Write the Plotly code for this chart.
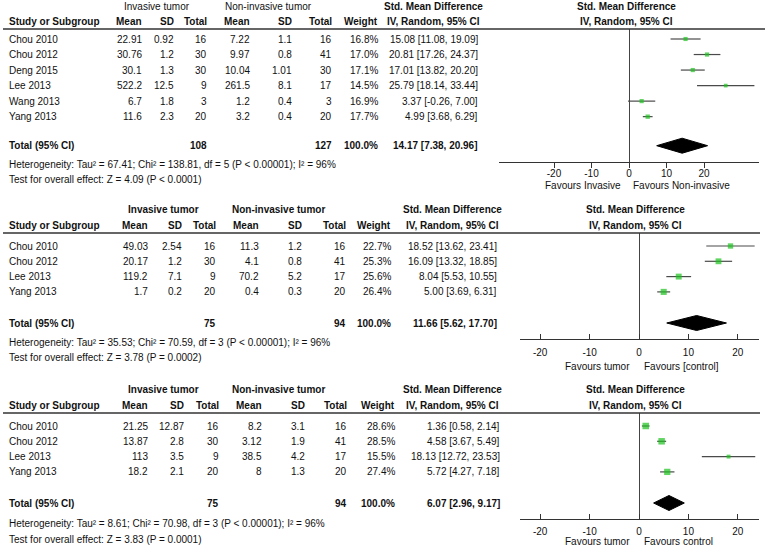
import plotly.graph_objects as go

W, H = 768, 548
FONT = "Liberation Sans, Arial, sans-serif"
GREEN = "#1cc21c"

# ---------------- Data ----------------
# Panel 1
p1_study = ["Chou 2010", "Chou 2012", "Deng 2015", "Lee 2013", "Wang 2013", "Yang 2013"]
p1_inv_mean = ["22.91", "30.76", "30.1", "522.2", "6.7", "11.6"]
p1_inv_sd = ["0.92", "1.2", "1.3", "12.5", "1.8", "2.3"]
p1_inv_n = [16, 30, 30, 9, 3, 20]
p1_non_mean = ["7.22", "9.97", "10.04", "261.5", "1.2", "3.2"]
p1_non_sd = ["1.1", "0.8", "1.01", "8.1", "0.4", "0.4"]
p1_non_n = [16, 41, 30, 17, 3, 20]
p1_weight = [16.8, 17.0, 17.1, 14.5, 16.9, 17.7]
p1_smd = [15.08, 20.81, 17.01, 25.79, 3.37, 4.99]
p1_lo = [11.08, 17.26, 13.82, 18.14, -0.26, 3.68]
p1_hi = [19.09, 24.37, 20.20, 33.44, 7.00, 6.29]
p1_total = [14.17, 7.38, 20.96]
p1_het = "Heterogeneity: Tau² = 67.41; Chi² = 138.81, df = 5 (P < 0.00001); I² = 96%"
p1_test = "Test for overall effect: Z = 4.09 (P < 0.0001)"
p1_fav = ["Favours Invasive", "Favours Non-invasive"]

# Panel 2
p2_study = ["Chou 2010", "Chou 2012", "Lee 2013", "Yang 2013"]
p2_inv_mean = ["49.03", "20.17", "119.2", "1.7"]
p2_inv_sd = ["2.54", "1.2", "7.1", "0.2"]
p2_inv_n = [16, 30, 9, 20]
p2_non_mean = ["11.3", "4.1", "70.2", "0.4"]
p2_non_sd = ["1.2", "0.8", "5.2", "0.3"]
p2_non_n = [16, 41, 17, 20]
p2_weight = [22.7, 25.3, 25.6, 26.4]
p2_smd = [18.52, 16.09, 8.04, 5.00]
p2_lo = [13.62, 13.32, 5.53, 3.69]
p2_hi = [23.41, 18.85, 10.55, 6.31]
p2_total = [11.66, 5.62, 17.70]
p2_het = "Heterogeneity: Tau² = 35.53; Chi² = 70.59, df = 3 (P < 0.00001); I² = 96%"
p2_test = "Test for overall effect: Z = 3.78 (P = 0.0002)"
p2_fav = ["Favours tumor", "Favours [control]"]

# Panel 3
p3_study = ["Chou 2010", "Chou 2012", "Lee 2013", "Yang 2013"]
p3_inv_mean = ["21.25", "13.87", "113", "18.2"]
p3_inv_sd = ["12.87", "2.8", "3.5", "2.1"]
p3_inv_n = [16, 30, 9, 20]
p3_non_mean = ["8.2", "3.12", "38.5", "8"]
p3_non_sd = ["3.1", "1.9", "4.2", "1.3"]
p3_non_n = [16, 41, 17, 20]
p3_weight = [28.6, 28.5, 15.5, 27.4]
p3_smd = [1.36, 4.58, 18.13, 5.72]
p3_lo = [0.58, 3.67, 12.72, 4.27]
p3_hi = [2.14, 5.49, 23.53, 7.18]
p3_total = [6.07, 2.96, 9.17]
p3_het = "Heterogeneity: Tau² = 8.61; Chi² = 70.98, df = 3 (P < 0.00001); I² = 96%"
p3_test = "Test for overall effect: Z = 3.83 (P = 0.0001)"
p3_fav = ["Favours tumor", "Favours control"]

tick_vals = [-20, -10, 0, 10, 20]
tick_text = ["-20", "-10", "0", "10", "20"]

# ---------------- Layout geometry (pixels) ----------------
panels = [
    dict(study=p1_study, im=p1_inv_mean, isd=p1_inv_sd, inn=p1_inv_n,
         nm=p1_non_mean, nsd=p1_non_sd, nn=p1_non_n, w=p1_weight,
         smd=p1_smd, lo=p1_lo, hi=p1_hi, tot=p1_total, het=p1_het, test=p1_test, fav=p1_fav,
         g=dict(hdr1=6, hdr2=21, line=29, row0=39, sp=15.53, total=145.7, het=164.5, test=179,
                axis=162, ax0=499, ax1=759, zero=629, unit=3.75, ticks="outside", standoff=-3,
                fav=185, fav_l=622, fav_r=632, line_x1=765,
                cols=[143, 175, 208, 251, 293, 333, 379], smd_r=479,
                inv_c=157, non_c=268, smd_c=433, forest_c=626, grp_bold=False)),
    dict(study=p2_study, im=p2_inv_mean, isd=p2_inv_sd, inn=p2_inv_n,
         nm=p2_non_mean, nsd=p2_non_sd, nn=p2_non_n, w=p2_weight,
         smd=p2_smd, lo=p2_lo, hi=p2_hi, tot=p2_total, het=p2_het, test=p2_test, fav=p2_fav,
         g=dict(hdr1=209, hdr2=225, line=233, row0=246, sp=15.3, total=323, het=342, test=357,
                axis=339, ax0=520, ax1=759, zero=639, unit=4.94, ticks="inside", standoff=4,
                fav=366, fav_l=631, fav_r=643, line_x1=760,
                cols=[149, 183, 217, 260, 303, 347, 392], smd_r=498,
                inv_c=163, non_c=278, smd_c=452, forest_c=635, grp_bold=True)),
    dict(study=p3_study, im=p3_inv_mean, isd=p3_inv_sd, inn=p3_inv_n,
         nm=p3_non_mean, nsd=p3_non_sd, nn=p3_non_n, w=p3_weight,
         smd=p3_smd, lo=p3_lo, hi=p3_hi, tot=p3_total, het=p3_het, test=p3_test, fav=p3_fav,
         g=dict(hdr1=389, hdr2=405, line=413, row0=426, sp=15.3, total=503, het=523, test=539,
                axis=519, ax0=520, ax1=759, zero=639, unit=4.94, ticks="inside", standoff=3,
                fav=541.5, fav_l=631, fav_r=643, line_x1=760,
                cols=[149, 185, 220, 263, 306, 348, 396], smd_r=501,
                inv_c=163, non_c=278, smd_c=452, forest_c=635, grp_bold=True)),
]


def px(x):
    return x / W


def py(y):
    return 1 - y / H


fig = go.Figure()
annotations = []
shapes = []
layout_axes = {}


def add_text(text, x, y, anchor="left", yref="paper", bold=False, size=10):
    if bold:
        text = "<b>" + text + "</b>"
    annotations.append(dict(text=text, x=x, y=y, xref="paper", yref=yref,
                            xanchor=anchor, yanchor="middle", showarrow=False,
                            font=dict(family=FONT, size=size, color="#111"),
                            borderpad=0))


for k, P in enumerate(panels):
    g = P["g"]
    n = len(P["study"])
    sfx = "" if k == 0 else str(k + 1)
    xa, ya = "x" + sfx, "y" + sfx
    # row -> pixel mapping via y axis range
    y_bot = (g["axis"] - g["row0"]) / g["sp"]
    y_top = (g["line"] - g["row0"]) / g["sp"]
    r_total = (g["total"] - g["row0"]) / g["sp"]
    rows = list(range(n))
    x_rng = [(g["ax0"] - g["zero"]) / g["unit"], (g["ax1"] - g["zero"]) / g["unit"]]

    layout_axes["xaxis" + sfx] = dict(
        domain=[px(g["ax0"]), px(g["ax1"])], range=x_rng, anchor=ya,
        showline=True, linecolor="#333", linewidth=1.3, showgrid=False,
        zeroline=True, zerolinecolor="#444", zerolinewidth=1.3,
        ticks=g["ticks"], ticklen=5, tickcolor="#333", tickwidth=1,
        tickvals=tick_vals, ticktext=tick_text, ticklabelstandoff=g["standoff"],
        tickfont=dict(family=FONT, size=10, color="#111"), fixedrange=True)
    layout_axes["yaxis" + sfx] = dict(
        domain=[py(g["axis"]), py(g["line"])], range=[y_bot, y_top], anchor=xa,
        visible=False, fixedrange=True)

    # study markers with CI
    sizes = [0.2 * w + 0.8 for w in P["w"]]
    fig.add_trace(go.Scatter(
        x=P["smd"], y=rows, xaxis=xa, yaxis=ya, mode="markers",
        marker=dict(symbol="square", size=sizes, color=GREEN, line=dict(width=0)),
        error_x=dict(type="data", symmetric=False,
                     array=[h - s for h, s in zip(P["hi"], P["smd"])],
                     arrayminus=[s - l for s, l in zip(P["smd"], P["lo"])],
                     thickness=1.2, width=0, color="#4a4a4a"),
        cliponaxis=False, hoverinfo="skip"))
    # summary diamond
    est, lo, hi = P["tot"]
    hh = 7.5 / g["sp"]
    fig.add_trace(go.Scatter(
        x=[lo, est, hi, est, lo], y=[r_total, r_total - hh, r_total, r_total + hh, r_total],
        xaxis=xa, yaxis=ya, mode="lines", fill="toself", fillcolor="black",
        line=dict(color="black", width=1), hoverinfo="skip"))

    # header line
    shapes.append(dict(type="line", xref="paper", yref="paper",
                       x0=px(3), x1=px(g["line_x1"]), y0=py(g["line"]), y1=py(g["line"]),
                       line=dict(color="#333", width=1.5)))

    c = g["cols"]
    gb = g["grp_bold"]
    # headers row 1
    add_text("Invasive tumor", px(g["inv_c"]), py(g["hdr1"]), "center", bold=gb)
    add_text("Non-invasive tumor", px(g["non_c"]), py(g["hdr1"]), "center", bold=gb)
    add_text("Std. Mean Difference", px(g["smd_c"]), py(g["hdr1"]), "center", bold=True)
    add_text("Std. Mean Difference", px(g["forest_c"]), py(g["hdr1"]), "center", bold=True)
    # headers row 2
    add_text("Study or Subgroup", px(8), py(g["hdr2"]), "left", bold=True)
    for lab, cx in zip(["Mean", "SD", "Total", "Mean", "SD", "Total", "Weight"], c):
        add_text(lab, px(cx), py(g["hdr2"]), "right", bold=True)
    add_text("IV, Random, 95% CI", px(g["smd_c"]), py(g["hdr2"]), "center", bold=True)
    add_text("IV, Random, 95% CI", px(g["forest_c"]), py(g["hdr2"]), "center", bold=True)

    # study rows
    for i in range(n):
        add_text(P["study"][i], px(8), i, "left", yref=ya)
        vals = [P["im"][i], P["isd"][i], str(P["inn"][i]), P["nm"][i], P["nsd"][i],
                str(P["nn"][i]), f"{P['w'][i]:.1f}%"]
        for v, cx in zip(vals, c):
            add_text(v, px(cx), i, "right", yref=ya)
        add_text(f"{P['smd'][i]:.2f} [{P['lo'][i]:.2f}, {P['hi'][i]:.2f}]",
                 px(g["smd_r"]), i, "right", yref=ya)

    # total row
    add_text("Total (95% CI)", px(8), r_total, "left", yref=ya, bold=True)
    add_text(str(sum(P["inn"])), px(c[2]), r_total, "right", yref=ya, bold=True)
    add_text(str(sum(P["nn"])), px(c[5]), r_total, "right", yref=ya, bold=True)
    add_text(f"{sum(P['w']):.1f}%", px(c[6]), r_total, "right", yref=ya, bold=True)
    add_text(f"{est:.2f} [{lo:.2f}, {hi:.2f}]", px(g["smd_r"]), r_total, "right",
             yref=ya, bold=True)

    # footer
    add_text(P["het"], px(8), py(g["het"]), "left")
    add_text(P["test"], px(8), py(g["test"]), "left")
    add_text(P["fav"][0], px(g["fav_l"]), py(g["fav"]), "right")
    add_text(P["fav"][1], px(g["fav_r"]), py(g["fav"]), "left")

fig.update_layout(
    width=W, height=H, margin=dict(l=0, r=0, t=0, b=0),
    paper_bgcolor="white", plot_bgcolor="white", showlegend=False,
    font=dict(family=FONT, size=10, color="#111"),
    annotations=annotations, shapes=shapes, **layout_axes)

fig.write_html("out.html", config={"displayModeBar": False},
               post_script="document.body.style.margin='0';document.body.style.overflow='hidden';")
